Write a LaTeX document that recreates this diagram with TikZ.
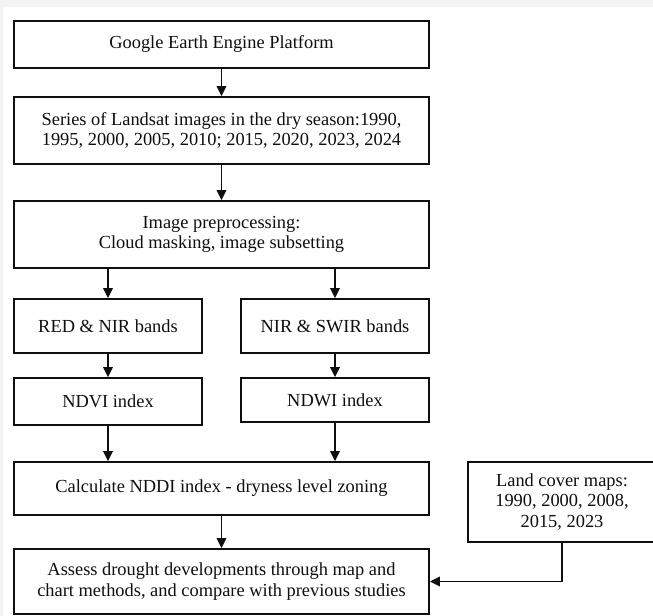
\documentclass[tikz,border=0pt]{standalone}
\usepackage{fontspec}
\setmainfont{Liberation Serif}
\usetikzlibrary{arrows.meta}
\definecolor{bggray}{RGB}{243,243,243}
\definecolor{ink}{RGB}{15,15,15}
\begin{document}
\begin{tikzpicture}[x=1bp,y=-1bp,
  stepbox/.style={draw=ink,line width=1.8bp,rectangle,inner sep=0pt,align=center,
    text=ink,font=\fontsize{18.4bp}{20.5bp}\selectfont},
  conn/.style={draw=ink,line width=1.8bp,-{Triangle[length=10bp,width=9.5bp]}}]
\useasboundingbox (0,0) rectangle (653,616);
\fill[bggray] (0,0) rectangle (653,616);
\fill[white] (3,7) rectangle (653,616);
\clip (0,0) rectangle (653,616);
\node[stepbox,minimum width=415bp,minimum height=47bp] (gee) at (221.5,44.5) {Google Earth Engine Platform};
\node[stepbox,minimum width=415bp,minimum height=67bp] (series) at (221.5,130.5) {Series of Landsat images in the dry season:1990,\\1995, 2000, 2005, 2010; 2015, 2020, 2023, 2024};
\node[stepbox,minimum width=415bp,minimum height=67bp] (prep) at (221.5,234.5) {Image preprocessing:\\Cloud masking, image subsetting};
\node[stepbox,minimum width=188bp,minimum height=54bp] (red) at (108,326) {RED \& NIR bands};
\node[stepbox,minimum width=188bp,minimum height=54bp] (swir) at (335,326) {NIR \& SWIR bands};
\node[stepbox,minimum width=188bp,minimum height=47bp] (ndvi) at (108,401.5) {NDVI index};
\node[stepbox,minimum width=188bp,minimum height=44bp] (ndwi) at (335,400) {NDWI index};
\node[stepbox,minimum width=415bp,minimum height=53bp] (nddi) at (221.5,488.5) {Calculate NDDI index - dryness level zoning};
\node[stepbox,minimum width=188bp,minimum height=80bp] (land) at (562,502) {Land cover maps:\\1990, 2000, 2008,\\2015, 2023};
\node[stepbox,minimum width=415bp,minimum height=65bp] (assess) at (221.5,581.5) {Assess drought developments through map and\\chart methods, and compare with previous studies};
\draw[conn] (gee.south) -- (series.north);
\draw[conn] (series.south) -- (prep.north);
\draw[conn] (red.north |- prep.south) -- (red.north);
\draw[conn] (swir.north |- prep.south) -- (swir.north);
\draw[conn] (red.south) -- (ndvi.north);
\draw[conn] (swir.south) -- (ndwi.north);
\draw[conn] (ndvi.south) -- (ndvi.south |- nddi.north);
\draw[conn] (ndwi.south) -- (ndwi.south |- nddi.north);
\draw[conn] (nddi.south) -- (assess.north);
\draw[conn] (land.south) |- (assess.east);
\end{tikzpicture}
\end{document}
